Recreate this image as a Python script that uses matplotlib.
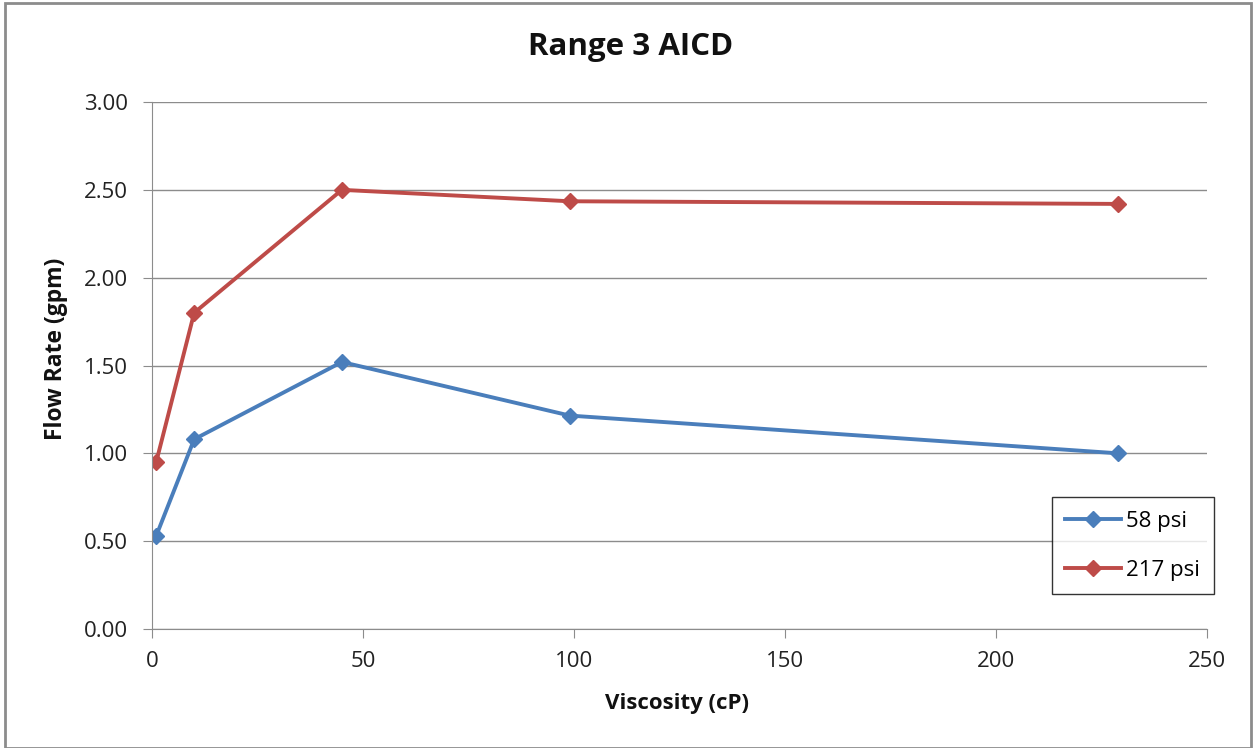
import matplotlib
matplotlib.use("Agg")
import matplotlib.pyplot as plt
from matplotlib.patches import Rectangle

viscosity = [1, 10, 45, 99, 229]
flow_58 = [0.53, 1.08, 1.52, 1.215, 1.00]
flow_217 = [0.95, 1.80, 2.50, 2.435, 2.42]
series_names = ["58 psi", "217 psi"]

plt.rcParams['font.family'] = ['Open Sans', 'DejaVu Sans']

fig = plt.figure(figsize=(12.55, 7.48), dpi=100)
ax = fig.add_axes([0.1211, 0.1591, 0.8406, 0.7045])

blue = "#4A7EBB"
red = "#BE4B48"
ax.plot(viscosity, flow_58, color=blue, lw=2.8, marker='D', ms=8, label=series_names[0])
ax.plot(viscosity, flow_217, color=red, lw=2.8, marker='D', ms=8, label=series_names[1])

ax.set_xlim(0, 250)
ax.set_ylim(0, 3.0)
ax.set_xticks([0, 50, 100, 150, 200, 250])
ax.set_yticks([0, 0.5, 1.0, 1.5, 2.0, 2.5, 3.0])
ax.set_yticklabels([f"{v:.2f}" for v in ax.get_yticks()])
ax.grid(axis='y', color='#8C8C8C', lw=1)
ax.set_axisbelow(True)
for s in ['top', 'right']:
    ax.spines[s].set_visible(False)
for s in ['left', 'bottom']:
    ax.spines[s].set_color('#8C8C8C')
ax.tick_params(axis='both', colors='#8C8C8C', labelcolor='#222222', labelsize=16, length=6.5)
ax.tick_params(axis='x', pad=9)
ax.tick_params(axis='y', pad=11)

fig.text(631/1255, 1 - 47/748, "Range 3 AICD", fontsize=22.5, fontweight='bold',
         color='#111111', ha='center', va='center')
fig.text(677/1255, 1 - 703/748, "Viscosity (cP)", fontsize=16, fontweight='bold',
         color='#111111', ha='center', va='center')
fig.text(56/1255, 1 - 349/748, "Flow Rate (gpm)", fontsize=16.5, fontweight='bold',
         color='#111111', ha='center', va='center', rotation=90)

leg = ax.legend(loc='upper left', bbox_to_anchor=(0.8530, 0.2496), fontsize=16,
                frameon=True, fancybox=False, edgecolor='black', borderpad=0.6,
                labelspacing=1.25, handlelength=2.5, handletextpad=0.25, borderaxespad=0)
leg.get_frame().set_linewidth(1)

fig.patches.append(Rectangle((5/1255, 0), 1246/1255, 1 - 3/748, transform=fig.transFigure,
                             fill=False, edgecolor='#8C8C8C', lw=2))

fig.savefig("out.png", dpi=100)
